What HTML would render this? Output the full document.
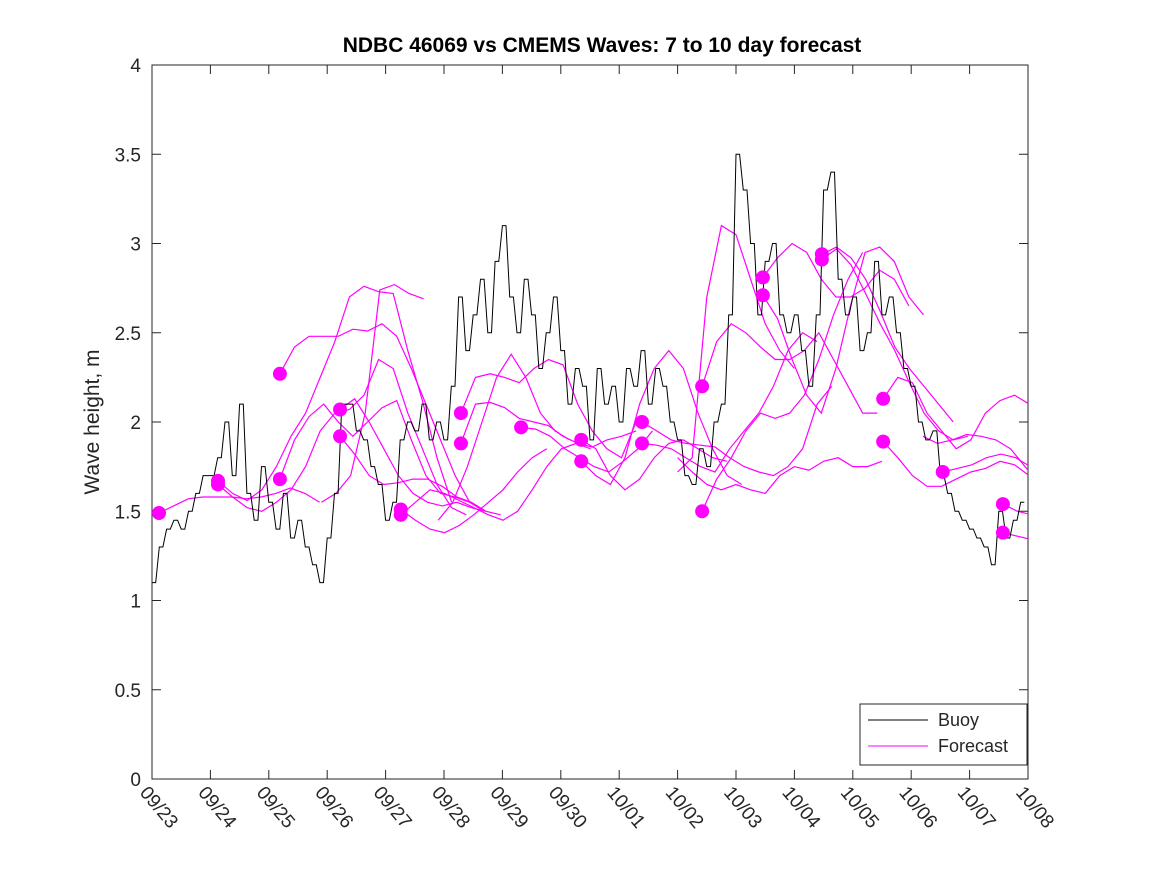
<!DOCTYPE html>
<html><head><meta charset="utf-8"><style>
body{margin:0;background:#fff;}
svg text{font-family:"Liberation Sans",sans-serif;fill:#262626;}
</style></head><body>
<svg id="chart" width="1167" height="875" viewBox="0 0 1167 875">
<rect width="1167" height="875" fill="#fff"/>
<text x="602" y="52" text-anchor="middle" font-size="21" font-weight="bold" style="fill:#000">NDBC 46069 vs CMEMS Waves: 7 to 10 day forecast</text>
<text transform="translate(99,422) rotate(-90)" text-anchor="middle" font-size="21">Wave height, m</text>
<g id="axes"></g>
<g id="marks"></g>
<g>
<rect x="860" y="704" width="167" height="61" fill="#fff" stroke="#262626" stroke-width="1"/>
<line x1="868" y1="720" x2="928" y2="720" stroke="#000" stroke-width="1"/>
<text x="938" y="726" font-size="18">Buoy</text>
<line x1="868" y1="746" x2="928" y2="746" stroke="#f0f" stroke-width="1"/>
<text x="938" y="752" font-size="18">Forecast</text>
</g>
</svg>
<script>
const xTickLabels=["09/23","09/24","09/25","09/26","09/27","09/28","09/29","09/30","10/01","10/02","10/03","10/04","10/05","10/06","10/07","10/08"];
const yTicks=[0,0.5,1,1.5,2,2.5,3,3.5,4];
const buoyStep=0.125;
const buoyValues=[
1.10,1.30,1.40,1.45,1.40,1.50,1.60,1.70,
1.70,1.80,2.00,1.70,2.10,1.60,1.45,1.75,
1.55,1.40,1.60,1.35,1.45,1.30,1.20,1.10,
1.35,1.60,2.10,2.10,1.95,1.90,1.75,1.65,
1.45,1.55,1.90,2.00,1.95,2.10,1.90,2.00,
1.90,2.20,2.70,2.40,2.60,2.80,2.50,2.90,
3.10,2.70,2.50,2.80,2.60,2.30,2.50,2.70,
2.40,2.10,2.30,2.20,1.90,2.30,2.10,2.20,
2.00,2.30,2.20,2.40,2.10,2.30,2.20,2.00,
1.90,1.70,1.65,1.85,1.75,2.00,2.10,2.60,
3.50,3.30,3.00,2.60,2.90,3.00,2.60,2.50,
2.60,2.40,2.20,2.60,3.30,3.40,2.80,2.60,
2.70,2.40,2.50,2.90,2.60,2.70,2.50,2.30,
2.20,2.00,1.90,1.95,1.70,1.60,1.50,1.45,
1.40,1.35,1.30,1.20,1.50,1.35,1.45,1.55];
const fcStep=0.25;
const fcStarts=[0.12,1.13,1.13,2.19,2.19,3.22,3.22,2.9,4.26,4.26,5.29,5.29,6.32,4.9,7.35,7.35,8.39,8.39,9.42,9.42,9.0,10.46,10.46,11.47,11.47,12.52,12.52,13.54,13.2,14.57,14.57,9.0];
const fcValues=[
[1.49,1.53,1.57,1.58,1.58,1.58,1.57,1.58,1.60,1.63,1.60,1.55],
[1.67,1.60,1.56,1.62,1.75,1.92,2.05,2.25,2.45,2.70,2.76,2.73,2.72,2.40,2.12,1.80,1.55],
[1.65,1.58,1.52,1.50,1.55,1.62,1.75,1.95,2.05,2.07,2.15,2.35,2.30,2.05,1.85,1.65,1.52,1.48],
[2.27,2.42,2.48,2.48,2.48,2.52,2.51,2.55,2.48,2.30,2.10,1.90,1.70,1.55,1.50],
[1.68,1.90,2.03,2.10,2.00,1.92,2.00,2.08,2.12,1.90,1.70,1.60,1.58,1.55],
[2.07,2.13,2.00,1.85,1.70,1.60,1.55,1.53,1.55,1.52,1.50,1.48],
[1.92,1.82,1.70,1.65,1.66,1.68,1.68,1.64,1.58,1.55,1.50],
[1.55,1.60,1.70,2.05,2.74,2.77,2.72,2.69],
[1.51,1.45,1.40,1.38,1.42,1.48,1.55,1.62,1.72,1.80,1.85],
[1.48,1.55,1.62,1.60,1.56,1.52,1.48,1.45,1.50,1.62,1.75,1.85,1.88,1.85],
[2.05,2.25,2.27,2.25,2.22,2.30,2.35,2.32,2.10,1.95,1.85,1.80,2.00],
[1.88,2.10,2.11,2.08,2.02,2.00,1.98,1.92,1.88,1.86,1.90,1.92,1.95],
[1.97,1.96,1.92,1.85,1.80,1.75,1.72,1.78,1.85,1.95],
[1.45,1.55,1.75,2.00,2.25,2.38,2.25,2.05,1.95,1.90],
[1.90,1.85,1.70,1.62,1.68,1.80,1.88,1.90,1.85,1.80,1.78],
[1.78,1.70,1.65,1.80,2.10,2.30,2.40,2.30,2.05,1.85,1.70,1.65],
[2.00,1.95,1.90,1.88,1.87,1.86,1.80,1.75,1.72,1.70,1.75,1.85,2.10,2.20],
[1.88,1.87,1.85,1.80,1.75,1.72,1.85,1.95,2.05,2.20,2.40,2.50,2.45],
[2.20,2.45,2.55,2.50,2.42,2.35,2.35,2.40,2.50,2.35,2.20,2.05,2.05],
[1.50,1.68,1.80,1.95,2.05,2.02,2.05,2.15,2.35,2.60,2.80,2.95],
[1.72,1.80,2.70,3.10,3.05,2.80,2.55,2.40,2.30],
[2.81,2.92,3.00,2.95,2.80,2.70,2.70,2.75,2.85,2.80,2.65],
[2.71,2.58,2.35,2.15,2.05,2.30,2.65,2.95,2.98,2.90,2.70,2.60],
[2.94,2.98,2.92,2.80,2.62,2.42,2.30,2.20,2.10,2.00],
[2.91,2.97,2.88,2.72,2.55,2.40,2.22,2.05,1.95,1.90,1.92],
[2.13,2.25,2.22,2.05,1.95,1.85,1.90,2.05,2.12,2.15,2.10,2.05],
[1.89,1.80,1.70,1.64,1.64,1.68,1.72,1.74,1.78,1.76,1.70,1.65,1.60],
[1.72,1.74,1.76,1.80,1.82,1.80,1.75,1.70,1.60,1.50,1.45],
[1.92,1.88,1.90,1.93,1.92,1.90,1.85,1.75,1.65,1.55,1.45],
[1.54,1.50,1.48,1.47,1.45,1.42],
[1.38,1.36,1.34,1.32,1.30,1.28],
[1.80,1.72,1.65,1.62,1.65,1.62,1.60,1.70,1.75,1.73,1.78,1.80,1.75,1.75,1.78]];
const dotDays=[0.12,1.13,1.13,2.19,2.19,3.22,3.22,4.26,4.26,5.29,5.29,6.32,7.35,7.35,8.39,8.39,9.42,9.42,10.46,10.46,11.47,11.47,12.52,12.52,13.54,14.57,14.57];
const dotValues=[1.49,1.67,1.65,2.27,1.68,2.07,1.92,1.51,1.48,2.05,1.88,1.97,1.90,1.78,2.00,1.88,2.20,1.50,2.81,2.71,2.94,2.91,2.13,1.89,1.72,1.54,1.38];

const L=152,R=1028,T=65,B=779,NS="http://www.w3.org/2000/svg";
const xS=d=>L+(R-L)*d/15, yS=v=>B-(B-T)*v/4;
const ax=document.getElementById('axes'), mk=document.getElementById('marks');
function mkEl(t,a,p){const e=document.createElementNS(NS,t);for(const k in a)e.setAttribute(k,a[k]);p.appendChild(e);return e;}
const defs=mkEl('defs',{},ax);const cp=mkEl('clipPath',{id:'pc'},defs);mkEl('rect',{x:L,y:T,width:R-L,height:B-T},cp);
const box=mkEl('rect',{x:L,y:T,width:R-L,height:B-T,fill:'none',stroke:'#262626','stroke-width':1},ax);


yTicks.forEach(v=>{const y=yS(v);
 mkEl('line',{x1:L,y1:y,x2:L+9,y2:y,stroke:'#262626'},ax);
 mkEl('line',{x1:R,y1:y,x2:R-9,y2:y,stroke:'#262626'},ax);
 const t=mkEl('text',{x:L-11,y:y+7,'text-anchor':'end','font-size':19},ax);t.textContent=String(v);
 
 
});
xTickLabels.forEach((s,i)=>{const x=xS(i);
 mkEl('line',{x1:x,y1:B,x2:x,y2:B-9,stroke:'#262626'},ax);
 mkEl('line',{x1:x,y1:T,x2:x,y2:T+9,stroke:'#262626'},ax);
 const t=mkEl('text',{transform:`translate(${x-13},${B+14}) rotate(50)`,'font-size':19},ax);t.textContent=s;
 
 
});
const g=mkEl('g',{'clip-path':'url(#pc)'},mk);
fcValues.forEach((arr,i)=>{
 const pts=arr.map((v,j)=>xS(fcStarts[i]+j*fcStep).toFixed(1)+','+yS(v).toFixed(1)).join(' ');
 const pl=mkEl('polyline',{points:pts,fill:'none',stroke:'#f0f','stroke-width':1.2},g);
 
 
});
let bp='';buoyValues.forEach((v,j)=>{const x=xS(j*buoyStep),x2=xS((j+1)*buoyStep);bp+=`${x.toFixed(1)},${yS(v).toFixed(1)} ${((x+x2)/2).toFixed(1)},${yS(v).toFixed(1)} `;});
const bl=mkEl('polyline',{points:bp,fill:'none',stroke:'#000','stroke-width':1},g);


dotDays.forEach((d,i)=>{
 const c=mkEl('circle',{cx:xS(d),cy:yS(dotValues[i]),r:7,fill:'#f0f'},g);
 
 
});
</script>
</body></html>
